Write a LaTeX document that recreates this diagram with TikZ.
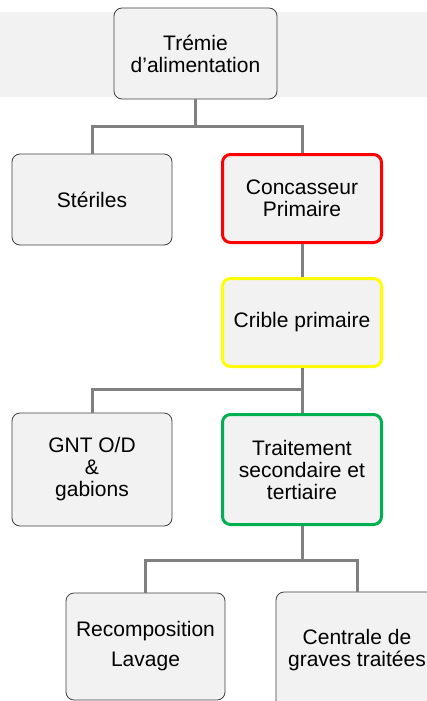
\documentclass[tikz,border=0pt]{standalone}
\usepackage{fontspec}
\setmainfont{Liberation Sans}
\definecolor{boxfill}{HTML}{F2F2F2}
\definecolor{boxline}{HTML}{404040}
\definecolor{conncol}{HTML}{808080}
\definecolor{redline}{HTML}{FF0000}
\definecolor{yellowline}{HTML}{FFFF00}
\definecolor{greenline}{HTML}{00B050}
\begin{document}
\begin{tikzpicture}[x=1pt,y=-1pt,
  box/.style={draw=boxline, fill=boxfill, rounded corners=8pt, line width=0.8pt,
    align=center, font=\fontsize{21}{22}\selectfont, inner sep=0pt},
  hot/.style={line width=3pt},
  conn/.style={draw=conncol, line width=3pt}]
\useasboundingbox (0,0) rectangle (427,701);
\clip (0,0) rectangle (427,701);
\fill[boxfill] (0,12) rectangle (427,97);
% nodes
\node[box, minimum width=163pt, minimum height=91pt] (tremie) at (195.5,53.5) {Trémie\\d’alimentation};
\node[box, minimum width=160pt, minimum height=91pt] (steriles) at (92,199.5) {Stériles};
\node[box, hot, draw=redline, minimum width=159pt, minimum height=88pt] (conc) at (302,198.5) {Concasseur\\Primaire};
\node[box, hot, draw=yellowline, minimum width=159pt, minimum height=88pt] (crible) at (302,322.5) {Crible primaire};
\node[box, minimum width=160pt, minimum height=113pt] (gnt) at (92,469.5) {GNT O/D\\\&\\gabions};
\node[box, hot, draw=greenline, minimum width=159pt, minimum height=110pt] (trait) at (302,469.5) {Traitement\\secondaire et\\tertiaire};
\node[box, minimum width=159pt, minimum height=107pt] (recomp) at (145.5,646.5) {Recomposition\\[8pt]Lavage};
\node[box, minimum width=162pt, minimum height=116pt] (centrale) at (357,650) {Centrale de\\graves traitées};
% connectors
\draw[conn] (tremie.south) -- ++(0,27) -| (steriles.north);
\draw[conn] (tremie.south) -- ++(0,27) -| (conc.north);
\draw[conn] (conc.south) -- (crible.north);
\draw[conn] (crible.south) -- ++(0,21) -| (gnt.north);
\draw[conn] (crible.south) -- (trait.north);
\draw[conn] (trait.south) -- ++(0,34) -| (recomp.north);
\draw[conn] (trait.south) -- ++(0,34) -| (centrale.north);
\end{tikzpicture}
\end{document}
